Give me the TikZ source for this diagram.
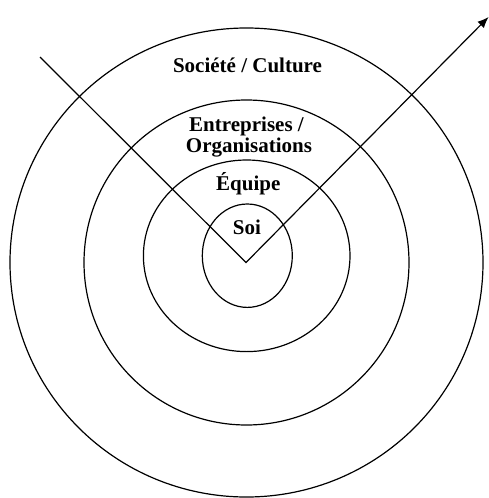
\documentclass[tikz,border=0pt]{standalone}
\usepackage{fontspec}
\setmainfont{Liberation Serif}
\usetikzlibrary{arrows.meta}
\begin{document}
\begin{tikzpicture}[x=1pt,y=-1pt,
  ring/.style={draw, line width=1.2pt},
  lab/.style={font=\bfseries\fontsize{21}{23}\selectfont, inner sep=0pt, anchor=base}]
\useasboundingbox (0,0) rectangle (489,498);
\draw[ring] (246.5,262.5) ellipse [x radius=236.5, y radius=234.5];
\draw[ring] (246.5,262.5) ellipse [x radius=162.5, y radius=162.5];
\draw[ring] (246.7,255.8) ellipse [x radius=103.3, y radius=95.8];
\draw[ring] (247.3,255.7) ellipse [x radius=45, y radius=51.7];
\coordinate (start) at (40,57);
\coordinate (vertex) at (246,262.5);
\coordinate (tip) at (488.5,17);
\draw[line width=1.2pt, -{Latex[length=11pt,width=9pt]}] (start) -- (vertex) -- (tip);
\node[lab] (soc) at (247.5,72.3) {Société / Culture};
\node[lab] (ent) at (246.5,131.7) {Entreprises /};
\node[lab] (org) at (249,152.7) {Organisations};
\node[lab] (equ) at (248.3,190) {Équipe};
\node[lab] (soi) at (247,234.3) {Soi};
\end{tikzpicture}
\end{document}
